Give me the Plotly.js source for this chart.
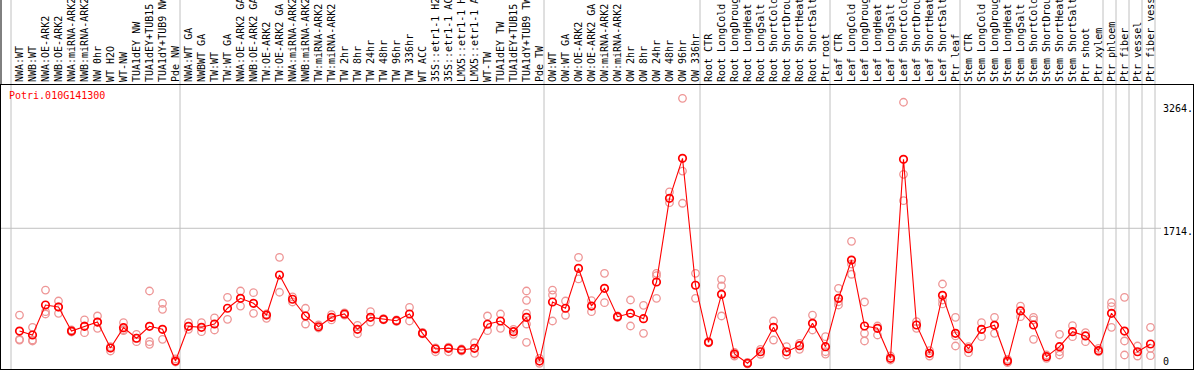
<!DOCTYPE html>
<html><head><meta charset="utf-8">
<script src="https://cdn.plot.ly/plotly-3.0.1.min.js"></script>
<style>html,body{margin:0;padding:0;background:#fff;}#chart{width:1194px;height:370px;}</style>
</head><body><div id="chart"></div>
<script>
const geneName = "Potri.010G141300";

const categories = [
 "NWA:WT","NWB:WT","NWA:OE-ARK2","NWB:OE-ARK2","NWA:miRNA-ARK2","NWB:miRNA-ARK2","NW 0hr","WT H2O","WT-NW","TUA1dEY NW",
 "TUA1dEY+TUB15","TUA1dY+TUB9 NW","Pde NW","NWA:WT GA","NWBWT GA","TW:WT","TW:WT GA","NWA:OE-ARK2 GA","NWB:OE-ARK2 GA","TW:OE-ARK2",
 "TW:OE-ARK2 GA","NWA:miRNA-ARK2","NWB:miRNA-ARK2","TW:miRNA-ARK2","TW:miRNA-ARK2","TW 2hr","TW 8hr","TW 24hr","TW 48hr","TW 96hr",
 "TW 336hr","WT ACC","35S::etr1-1 H2","35S::etr1-1 AC","LMX5::etr1-1 H","LMX5::etr1-1 A","WT-TW","TUA1dEY TW","TUA1dEY+TUB15","TUA1dY+TUB9 TW",
 "Pde TW","OW:WT","OW:WT GA","OW:OE-ARK2","OW:OE-ARK2 GA","OW:miRNA-ARK2","OW:miRNA-ARK2","OW 2hr","OW 8hr","OW 24hr",
 "OW 48hr","OW 96hr","OW 336hr","Root CTR","Root LongCold","Root LongDroug","Root LongHeat","Root LongSalt","Root ShortCold","Root ShortDrou",
 "Root ShortHeat","Root ShortSalt","Ptr root","Leaf CTR","Leaf LongCold","Leaf LongDroug","Leaf LongHeat","Leaf LongSalt","Leaf ShortCold","Leaf ShortDrou",
 "Leaf ShortHeat","Leaf ShortSalt","Ptr leaf","Stem CTR","Stem LongCold","Stem LongDroug","Stem LongHeat","Stem LongSalt","Stem ShortCold","Stem ShortDrou",
 "Stem ShortHeat","Stem ShortSalt","Ptr shoot","Ptr xylem","Ptr phloem","Ptr fiber","Ptr vessel","Ptr fiber vess"
];

const meanValues = [
 423,373,750,725,423,482,536,210,465,332,
 482,445,46,482,470,511,709,834,771,624,
 1127,822,612,477,595,637,445,595,570,553,
 637,394,197,206,185,206,508,549,415,595,
 46,788,709,1211,737,960,603,646,578,1039,
 2090,2593,998,281,884,134,18,163,470,163,
 239,520,226,834,1315,486,457,80,2580,499,
 143,872,394,201,445,495,46,675,499,101,
 226,415,361,176,646,423,163,260
];

const replicateValues = [
 [624,319,310],[470,310,298],[938,666,637],[800,646,725],[436,411,423],[562,402,486],[612,457,536],[226,172,210],[528,427,440],[382,289,332],
 [926,289,256],[771,696,319],[72,34],[528,445],[528,415],[587,436],[847,570],[926,737],[905,646],[637,583],
 [1349,910],[851,788],[709,511],[499,461],[628,562],[650,624],[495,389],[666,536],[580,562],[562,543],
 [721,549],[405,386],[163,210],[163,222],[197,172],[276,143],[612,427],[637,457],[445,382],[926,809,646,511,281],
 [80,18],[938,876,549],[800,621],[1349,1077],[804,666],[1148,779],[612,593],[813,486],[746,394],[1148,1118,834],
 [2170,2035],[3347,2433,2028],[1148,834],[291,273],[1073,989,612],[153,109],[28,9],[193,131],[549,310],[226,122],
 [269,193],[624,436],[352,163,134],[960,791,750],[1550,1136,1265],[788,394,298],[486,373],[109,59],[3297,2392,2060],[540,457],
 [176,109],[1014,813,763],[595,361,235],[226,151],[528,352],[595,394],[68,25],[737,603],[595,562,319],[122,80],
 [382,163,122],[490,352],[402,289],[206,163],[779,729,470],[847,298,122],[235,109],[470,206,113]
];

const groupSizes = [13,28,12,10,10,11,1,1,1,1];
const yTickVals = [0,1714,3264];
const yTickText = ["0","1714.","3264."];
const yGridValue = 1714;

// ---- geometry ----
const W=1194, H=370, mL=1, mR=1, mT=85, mB=1;
const plotW=W-mL-mR, plotH=H-mT-mB;
const cellPx=13, firstPx=19.5;
const xr0=(mL-firstPx)/cellPx, xr1=xr0+plotW/cellPx;
const zeroPx=364.7, pxPerUnit=0.0796;
const yr0=-((H-mB)-zeroPx)/pxPerUnit, yr1=yr0+plotH/pxPerUnit;
const gridOffset=(11-firstPx)/cellPx;
const topPaper=1+mT/plotH;
const mono="DejaVu Sans Mono, monospace";

const idx=categories.map((c,i)=>i);
const repX=[], repY=[];
replicateValues.forEach((arr,i)=>arr.forEach(v=>{repX.push(i);repY.push(v);}));

const shapes=[];
let cum=0; const bounds=[0];
groupSizes.forEach(s=>{cum+=s;bounds.push(cum);});
bounds.forEach(b=>shapes.push({type:'line',xref:'x',yref:'paper',x0:b+gridOffset,x1:b+gridOffset,y0:0,y1:topPaper,line:{color:'#c0c0c0',width:1},layer:'below'}));
shapes.push({type:'line',xref:'x',yref:'y',x0:xr0,x1:(1161-firstPx)/cellPx,y0:yGridValue,y1:yGridValue,line:{color:'#c0c0c0',width:1},layer:'below'});
shapes.push({type:'line',xref:'paper',yref:'paper',x0:0,x1:0,y0:1,y1:topPaper,line:{color:'#000',width:1}});

const yShift=[3,-3.4,-3.4];
const annotations=yTickVals.map((v,i)=>({xref:'paper',yref:'y',x:(1161-mL)/plotW,y:v,yshift:yShift[i],xanchor:'left',yanchor:'middle',text:yTickText[i],showarrow:false,font:{family:mono,size:10,color:'#000'}}));
annotations.push({xref:'paper',yref:'paper',x:(7-mL)/plotW,y:((H-mB)-96)/plotH,xanchor:'left',yanchor:'middle',text:geneName,showarrow:false,font:{family:mono,size:10,color:'#ff0000'}});

const traces=[
 {type:'scatter',mode:'markers',x:repX,y:repY,hoverinfo:'skip',
  marker:{symbol:'circle-open',size:7.5,color:'rgb(238,150,150)',line:{width:1.3}}},
 {type:'scatter',mode:'lines+markers',x:idx,y:meanValues,
  line:{color:'#ff0000',width:1.1},
  marker:{symbol:'circle-open',size:7.5,color:'#ff0000',line:{width:1.7}}}
];

const layout={
 width:W,height:H,margin:{l:mL,r:mR,t:mT,b:mB,pad:0},
 paper_bgcolor:'#fff',plot_bgcolor:'#fff',showlegend:false,
 xaxis:{range:[xr0,xr1],side:'top',tickmode:'array',tickvals:idx,ticktext:categories,tickangle:-90,
  tickfont:{family:mono,size:10,color:'#000'},ticks:'',showgrid:false,zeroline:false,
  showline:true,mirror:true,linecolor:'#000',linewidth:1,automargin:false},
 yaxis:{range:[yr0,yr1],showticklabels:false,ticks:'',showgrid:false,zeroline:false,
  showline:true,mirror:true,linecolor:'#000',linewidth:1,automargin:false},
 shapes:shapes,annotations:annotations
};
Plotly.newPlot('chart',traces,layout,{displayModeBar:false,staticPlot:true});
</script></body></html>
